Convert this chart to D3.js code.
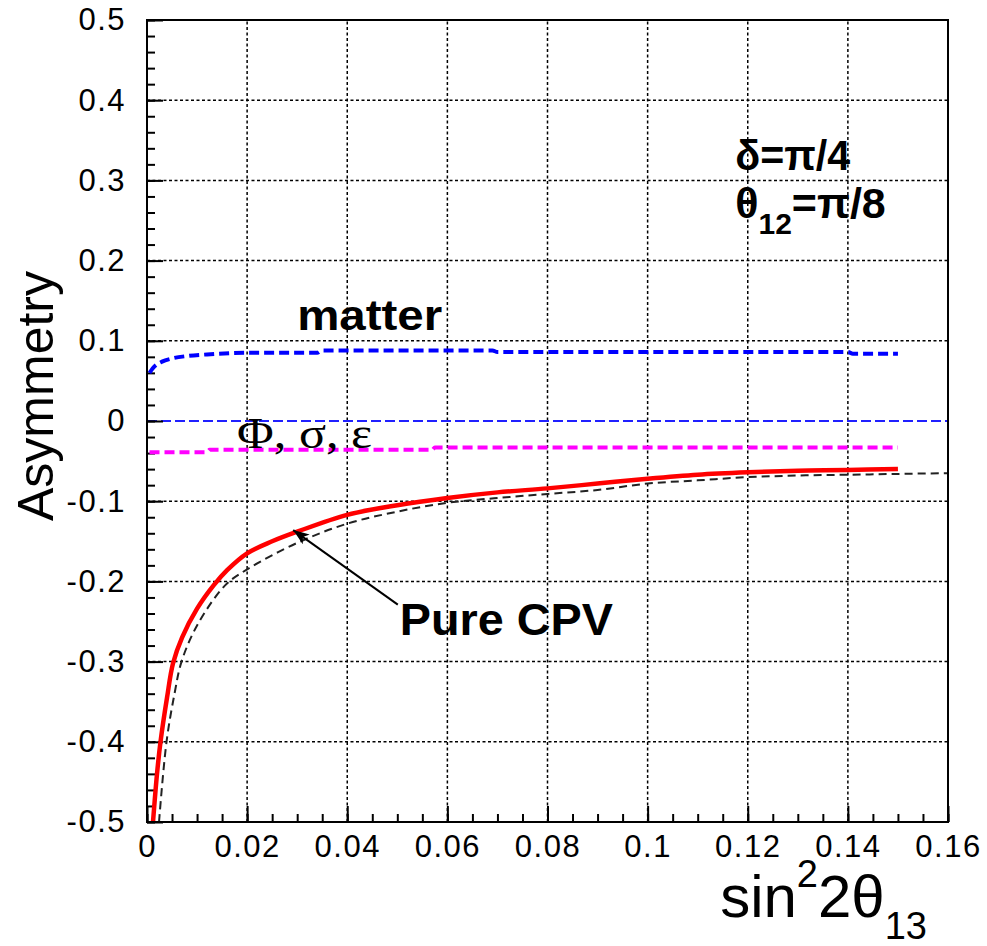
<!DOCTYPE html>
<html>
<head>
<meta charset="utf-8">
<script src="https://cdn.jsdelivr.net/npm/d3@7"></script>
<style>
  html, body { margin: 0; padding: 0; background: #ffffff; }
  svg { display: block; }
  text { font-family: "Liberation Sans", Arial, Helvetica, sans-serif; }
</style>
</head>
<body>
<svg id="chart" width="987" height="946"></svg>
<script>
// Axis ranges and tick labels
const xDomain = [0, 0.16];
const yDomain = [-0.5, 0.5];
const xTicks = [0, 0.02, 0.04, 0.06, 0.08, 0.1, 0.12, 0.14, 0.16];
const xTickLabels = ["0", "0.02", "0.04", "0.06", "0.08", "0.1", "0.12", "0.14", "0.16"];
const yTicks = [0.5, 0.4, 0.3, 0.2, 0.1, 0, -0.1, -0.2, -0.3, -0.4, -0.5];
const yTickLabels = ["0.5", "0.4", "0.3", "0.2", "0.1", "0", "-0.1", "-0.2", "-0.3", "-0.4", "-0.5"];

// Matter-effect asymmetry (blue, dashed)
const matterX = [0.0005, 0.0015, 0.003, 0.005, 0.008, 0.012, 0.02, 0.034, 0.035, 0.069, 0.07, 0.14, 0.141, 0.15];
const matterY = [0.060, 0.068, 0.074, 0.078, 0.081, 0.083, 0.085, 0.085, 0.088, 0.088, 0.086, 0.086, 0.084, 0.084];

// Phi, sigma, epsilon contribution (magenta, dashed)
const fluxX = [0.0005, 0.012, 0.0125, 0.057, 0.0575, 0.15];
const fluxY = [-0.039, -0.039, -0.036, -0.036, -0.033, -0.033];

// Pure CP-violating asymmetry (red, solid)
const cpvX = [0.0012, 0.002, 0.0027, 0.004, 0.0052, 0.007, 0.01, 0.0133, 0.016, 0.02, 0.025, 0.03, 0.04, 0.05, 0.06, 0.07, 0.08, 0.09, 0.1, 0.11, 0.12, 0.13, 0.14, 0.15];
const cpvY = [-0.5, -0.44, -0.4, -0.345, -0.302, -0.27, -0.234, -0.205, -0.186, -0.165, -0.15, -0.138, -0.117, -0.105, -0.096, -0.089, -0.084, -0.078, -0.072, -0.067, -0.064, -0.062, -0.061, -0.060];

// Total asymmetry (black, thin dashed)
const totalX = [0.0024, 0.0039, 0.0055, 0.0069, 0.01, 0.0156, 0.02, 0.03, 0.04, 0.05, 0.06, 0.07, 0.08, 0.09, 0.1, 0.11, 0.12, 0.13, 0.14, 0.15, 0.16];
const totalY = [-0.5, -0.4, -0.34, -0.3, -0.255, -0.205, -0.185, -0.152, -0.128, -0.113, -0.102, -0.096, -0.091, -0.086, -0.078, -0.074, -0.070, -0.068, -0.067, -0.066, -0.065];

// Annotation anchors, in data units
const arrowTip = [0.0292, -0.136];
const arrowTail = [0.0501, -0.229];

const svg = d3.select("#chart");
const margin = { left: 147, top: 20, right: 39, bottom: 124 };
const W = 987, H = 946;
const x = d3.scaleLinear().domain(xDomain).range([margin.left, W - margin.right]);
const y = d3.scaleLinear().domain(yDomain).range([H - margin.bottom, margin.top]);

const defs = svg.append("defs");
defs.append("clipPath").attr("id", "plotClip")
  .append("rect")
  .attr("x", x(xDomain[0])).attr("y", y(yDomain[1]))
  .attr("width", x(xDomain[1]) - x(xDomain[0]))
  .attr("height", y(yDomain[0]) - y(yDomain[1]));
defs.append("marker").attr("id", "arrowHead")
  .attr("markerUnits", "userSpaceOnUse")
  .attr("viewBox", "0 0 16 12").attr("refX", 16).attr("refY", 6)
  .attr("markerWidth", 16).attr("markerHeight", 12)
  .attr("orient", "auto")
  .append("path").attr("d", "M0,0 L16,6 L0,12 L4,6 Z").attr("fill", "#000");

// Grid
const grid = svg.append("g");
grid.selectAll("line.gx").data(xTicks.slice(1, -1)).join("line")
  .attr("x1", d => x(d)).attr("x2", d => x(d))
  .attr("y1", y(yDomain[0])).attr("y2", y(yDomain[1]))
  .attr("stroke", "#000").attr("stroke-width", 1.5).attr("stroke-dasharray", "3,2.5");
grid.selectAll("line.gy").data(yTicks.slice(1, -1).filter(d => d !== 0)).join("line")
  .attr("y1", d => y(d)).attr("y2", d => y(d))
  .attr("x1", x(xDomain[0])).attr("x2", x(xDomain[1]))
  .attr("stroke", "#000").attr("stroke-width", 1.5).attr("stroke-dasharray", "3,2.5");

// Zero line
svg.append("line")
  .attr("x1", x(xDomain[0])).attr("x2", x(xDomain[1]))
  .attr("y1", y(0)).attr("y2", y(0))
  .attr("stroke", "#2020ff").attr("stroke-width", 1.8).attr("stroke-dasharray", "10,4");

// Axes (ticks pointing into the frame)
const fmtX = d => xTickLabels[xTicks.indexOf(d)];
const fmtY = d => yTickLabels[yTicks.indexOf(d)];
const xAxisMinor = d3.axisBottom(x).tickValues(d3.range(0, 0.1601, 0.005)).tickSize(-8).tickFormat("");
const xAxisMajor = d3.axisBottom(x).tickValues(xTicks).tickSize(-16).tickPadding(13).tickFormat(fmtX);
const yAxisMinor = d3.axisLeft(y).tickValues(d3.range(-0.5, 0.5001, 0.02)).tickSize(-8).tickFormat("");
const yAxisMajor = d3.axisLeft(y).tickValues(yTicks).tickSize(-16).tickPadding(21).tickFormat(fmtY);

function styleAxis(g) {
  g.select(".domain").remove();
  g.selectAll(".tick line").attr("stroke", "#000").attr("stroke-width", 2);
  g.selectAll(".tick text")
    .attr("fill", "#000")
    .style("font-family", '"Liberation Sans", Arial, sans-serif')
    .style("font-size", "31px")
    .style("letter-spacing", "1.5px");
}
svg.append("g").attr("transform", `translate(0,${y(yDomain[0])})`).call(xAxisMinor).call(styleAxis);
svg.append("g").attr("transform", `translate(0,${y(yDomain[0])})`).call(xAxisMajor).call(styleAxis);
svg.append("g").attr("transform", `translate(${x(xDomain[0])},0)`).call(yAxisMinor).call(styleAxis);
svg.append("g").attr("transform", `translate(${x(xDomain[0])},0)`).call(yAxisMajor).call(styleAxis);

// Curves: smooth ones for the falling asymmetries, piecewise for the flat ones
const smooth = d3.line().x(d => x(d[0])).y(d => y(d[1])).curve(d3.curveCatmullRom.alpha(0.5));
const flat = d3.line().x(d => x(d[0])).y(d => y(d[1])).curve(d3.curveMonotoneX);
const plot = svg.append("g").attr("clip-path", "url(#plotClip)");
plot.append("path").datum(d3.zip(totalX, totalY)).attr("d", smooth)
  .attr("fill", "none").attr("stroke", "#222").attr("stroke-width", 2).attr("stroke-dasharray", "8,5");
plot.append("path").datum(d3.zip(cpvX, cpvY)).attr("d", smooth)
  .attr("fill", "none").attr("stroke", "#ff0000").attr("stroke-width", 4.5);
plot.append("path").datum(d3.zip(matterX, matterY)).attr("d", flat)
  .attr("fill", "none").attr("stroke", "#0000ff").attr("stroke-width", 4).attr("stroke-dasharray", "10,5");
plot.append("path").datum(d3.zip(fluxX, fluxY)).attr("d", flat)
  .attr("fill", "none").attr("stroke", "#ff00ff").attr("stroke-width", 4).attr("stroke-dasharray", "10,5");

// Frame
svg.append("rect")
  .attr("x", x(xDomain[0])).attr("y", y(yDomain[1]))
  .attr("width", x(xDomain[1]) - x(xDomain[0]))
  .attr("height", y(yDomain[0]) - y(yDomain[1]))
  .attr("fill", "none").attr("stroke", "#000").attr("stroke-width", 2);

// Axis titles
svg.append("text")
  .attr("transform", `translate(53,${(y(yDomain[0]) + y(yDomain[1])) / 2 - 25}) rotate(-90)`)
  .attr("text-anchor", "middle")
  .style("font-size", "50px").attr("fill", "#000")
  .text("Asymmetry");

const xt = svg.append("text")
  .attr("x", x(xDomain[1]) - 21).attr("y", 917)
  .attr("text-anchor", "end").attr("fill", "#000")
  .style("font-size", "60px");
xt.append("tspan").text("sin");
xt.append("tspan").attr("dy", -30).style("font-size", "38px").text("2");
xt.append("tspan").attr("dy", 30).text("2θ");
xt.append("tspan").attr("dy", 22).style("font-size", "38px").text("13");

// Annotations
svg.append("text").attr("x", x(0.030)).attr("y", y(0.113))
  .style("font-size", "43px").style("font-weight", "bold")
  .attr("textLength", 145).attr("lengthAdjust", "spacingAndGlyphs")
  .text("matter");

svg.append("text").attr("x", x(0.018)).attr("y", y(-0.0337))
  .style("font-family", '"Liberation Serif", "Times New Roman", serif')
  .style("font-size", "44px")
  .attr("textLength", 135).attr("lengthAdjust", "spacingAndGlyphs")
  .text("Φ, σ, ε");

svg.append("text").attr("x", x(0.0505)).attr("y", y(-0.2668))
  .style("font-size", "45px").style("font-weight", "bold")
  .attr("textLength", 213).attr("lengthAdjust", "spacingAndGlyphs")
  .text("Pure CPV");

svg.append("line")
  .attr("x1", x(arrowTail[0])).attr("y1", y(arrowTail[1]))
  .attr("x2", x(arrowTip[0])).attr("y2", y(arrowTip[1]))
  .attr("stroke", "#000").attr("stroke-width", 2)
  .attr("marker-end", "url(#arrowHead)");

svg.append("text").attr("x", x(0.1175)).attr("y", y(0.3125))
  .style("font-size", "43px").style("font-weight", "bold")
  .attr("textLength", 115).attr("lengthAdjust", "spacingAndGlyphs")
  .text("δ=π/4");

const th = svg.append("text").attr("x", x(0.1175)).attr("y", y(0.2535))
  .style("font-size", "43px").style("font-weight", "bold");
th.append("tspan").text("θ");
th.append("tspan").attr("dy", 16).style("font-size", "30px").text("12");
th.append("tspan").attr("dy", -16).text("=π/8");
</script>
</body>
</html>
